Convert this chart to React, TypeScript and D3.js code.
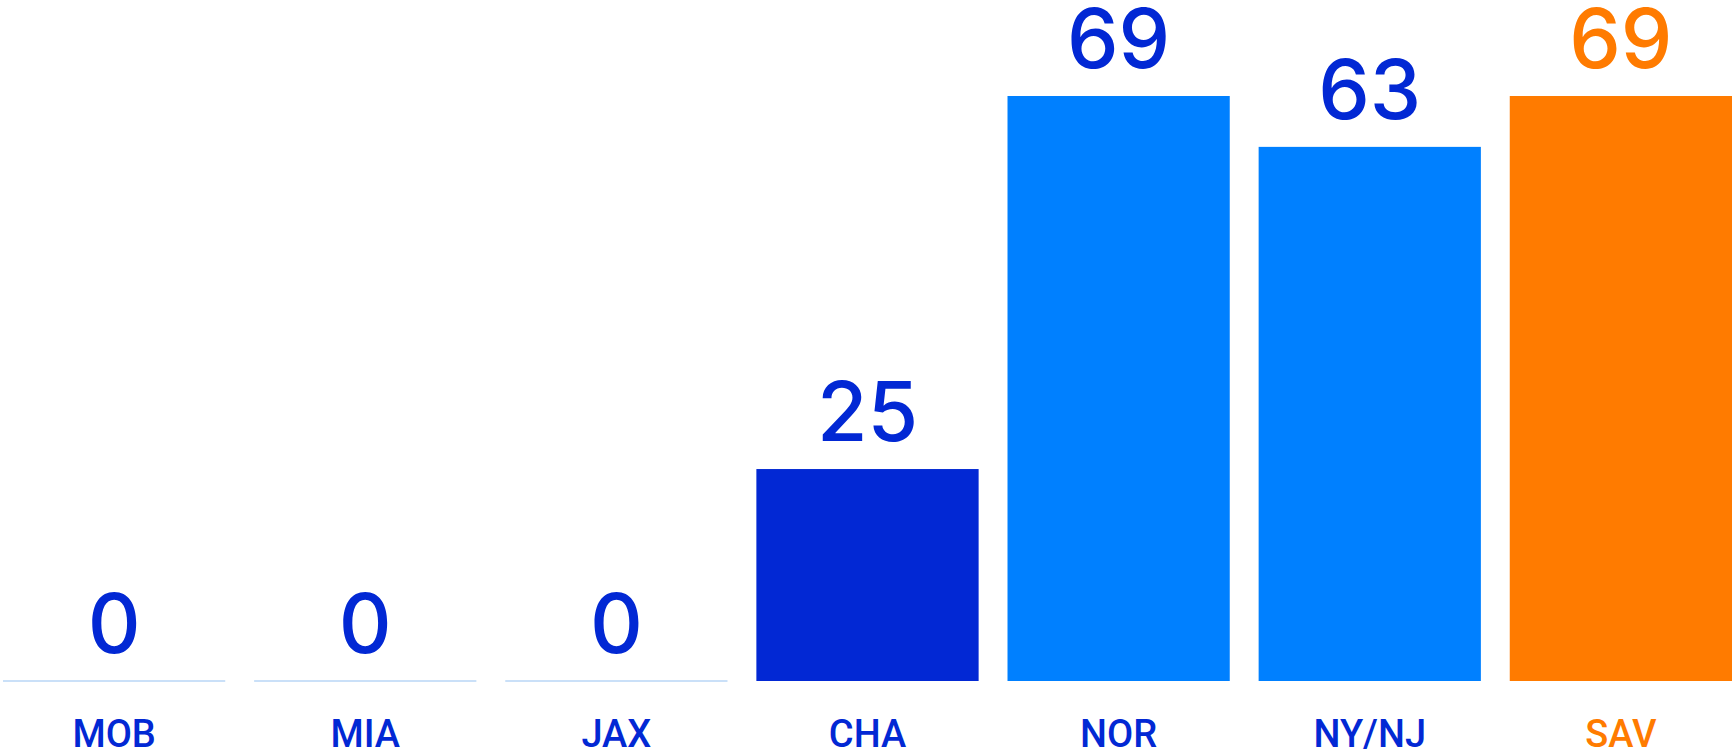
import React from "react";
import * as d3 from "d3";

const categories = ["MOB", "MIA", "JAX", "CHA", "NOR", "NY/NJ", "SAV"];
const values = [0, 0, 0, 25, 69, 63, 69];
const barColors = ["#0228d4", "#0228d4", "#0228d4", "#0228d4", "#0080ff", "#0080ff", "#ff7b00"];
const textColors = ["#0228d4", "#0228d4", "#0228d4", "#0228d4", "#0228d4", "#0228d4", "#ff7b00"];

const W = 1735;
const H = 754;
const baseline = 681;

export default function App() {
  const x = d3.scaleBand<string>().domain(categories).range([3, 1732]).paddingInner(0.115).paddingOuter(0);
  const y = d3.scaleLinear().domain([0, 69]).range([baseline, 96]);
  const numFont = "Inter, 'Noto Sans', sans-serif";
  const labFont = "Roboto, 'Noto Sans', sans-serif";
  return (
    <svg width={W} height={H} style={{ position: "absolute", left: 0, top: 0, background: "#fff" }}>
      {categories.map((c, i) => {
        const v = values[i];
        const x0 = x(c)!;
        const bw = x.bandwidth();
        const cx = x0 + bw / 2;
        const top = y(v);
        return (
          <g key={c}>
            {v > 0 ? (
              <rect x={x0} y={top} width={bw} height={baseline - top} fill={barColors[i]} />
            ) : (
              <line x1={x0} x2={x0 + bw} y1={baseline} y2={baseline} stroke="#b8d6f6" strokeWidth={1.5} />
            )}
            <text x={cx} y={top - 28} textAnchor="middle" fontFamily={numFont} fontSize={82} fontWeight={500} fill={textColors[i]}>
              {v}
            </text>
            <text x={cx} y={746.5} textAnchor="middle" fontFamily={labFont} fontSize={38} fontWeight={500} fill={textColors[i]}>
              {c}
            </text>
          </g>
        );
      })}
    </svg>
  );
}
